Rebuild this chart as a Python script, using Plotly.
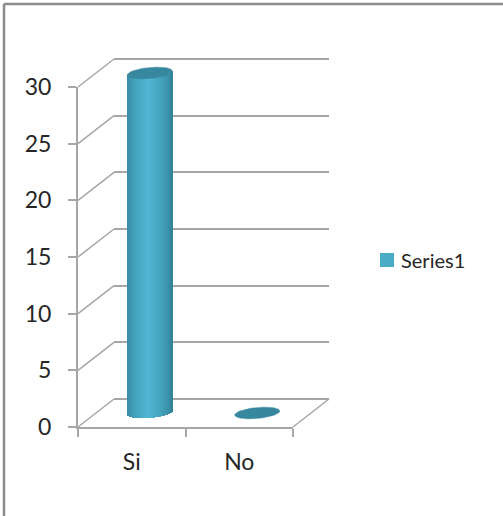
import numpy as np
import plotly.graph_objects as go

categories = ["Si", "No"]
series_name = "Series1"
values = [30, 0]
y_ticks = [0, 5, 10, 15, 20, 25, 30]

W, H = 503, 516
def xd(a, b): return [a / W, b / W]
def yd(top, bot): return [1 - bot / H, 1 - top / H]

GRID = "#a6a6a6"
TEXT = "#262626"
FONT = "Lato, Carlito, sans-serif"
DARK = np.array([0x2e, 0x7c, 0x93])
LIGHT = np.array([0x50, 0xb6, 0xd2])
TOP = "#37879f"

px_per_cat = 107.5
px_per_unit = 340 / 30
half_w = 22.5 / px_per_cat
half_h = 5.5 / px_per_unit
tilt = 2 / px_per_unit
N = 46
PAD = 1.2  # extra value units on the back wall and cylinder plane
pad_px = PAD * px_per_unit

def color(u):
    t = np.clip(1 - abs(u + 0.05) / 1.05, 0, 1) ** 0.55
    c = DARK + (LIGHT - DARK) * t
    return "rgb(%d,%d,%d)" % tuple(c)

fig = go.Figure()

fig.add_trace(go.Scatter(x=categories, y=[None, None], xaxis="x", yaxis="y", showlegend=False, hoverinfo="skip"))
fig.add_trace(go.Scatter(x=[0], y=[None], xaxis="x2", yaxis="y2", showlegend=False, hoverinfo="skip"))

for i, v in enumerate(values):
    if v <= 0:
        continue
    us = (np.arange(N) + 0.5) / N * 2 - 1
    xs = i + us * half_w
    bases = -half_h * np.sqrt(1 - us**2) + tilt * us
    tops = v + tilt * us
    fig.add_trace(go.Bar(
        x=xs, y=tops - bases, base=bases, width=2 * half_w / N * 1.25,
        marker=dict(color=[color(u) for u in us], line=dict(width=0)),
        xaxis="x3", yaxis="y3", showlegend=False, hoverinfo="skip"))

t = np.linspace(0, 2 * np.pi, 73)
for i, v in enumerate(values):
    fig.add_trace(go.Scatter(
        x=i + half_w * np.cos(t),
        y=v + half_h * np.sin(t) + tilt * np.cos(t),
        mode="lines", fill="toself", fillcolor=TOP, line=dict(color=TOP, width=0.5),
        xaxis="x3", yaxis="y3", showlegend=False, hoverinfo="skip"))

fig.add_trace(go.Scatter(
    x=[None], y=[None], mode="markers", name=series_name,
    marker=dict(symbol="square", size=14, color="#4bacc6"),
    xaxis="x3", yaxis="y3", showlegend=True))

shapes = []
for v in y_ticks:
    f = 427 - v * px_per_unit
    shapes.append(dict(type="line", xref="paper", yref="paper",
                       x0=78 / W, y0=1 - f / H, x1=114 / W, y1=1 - (f - 28) / H,
                       line=dict(color=GRID, width=1.5), layer="below"))
shapes.append(dict(type="line", xref="paper", yref="paper", x0=293 / W, y0=1 - 427 / H,
                   x1=329 / W, y1=1 - 399 / H, line=dict(color=GRID, width=1.5), layer="below"))
for x0, y0, x1, y1 in [(4, 516, 4, 4), (4, 4, 503, 4)]:
    shapes.append(dict(type="line", xref="paper", yref="paper",
                       x0=x0 / W, y0=1 - y0 / H, x1=x1 / W, y1=1 - y1 / H,
                       line=dict(color="#8c8c8c", width=2.5)))

fig.update_layout(
    width=W, height=H, autosize=False,
    margin=dict(l=0, r=0, t=0, b=0, autoexpand=False),
    paper_bgcolor="white", plot_bgcolor="rgba(0,0,0,0)",
    barmode="overlay", bargap=0, shapes=shapes,
    font=dict(family=FONT, color=TEXT),
    showlegend=True,
    legend=dict(x=361 / W, y=1 - 260 / H, xanchor="left", yanchor="middle",
                font=dict(size=20, family=FONT, color=TEXT),
                bgcolor="rgba(0,0,0,0)", itemwidth=30),
    xaxis=dict(domain=xd(78, 293), type="category", categoryorder="array", categoryarray=categories,
               range=[-0.5, 1.5], anchor="y", showgrid=False, zeroline=False,
               showline=True, linecolor=GRID, linewidth=2,
               ticks="outside", ticklen=8, tickcolor=GRID, tickwidth=2, tickson="boundaries",
               tickfont=dict(size=23), ticklabelstandoff=13),
    yaxis=dict(domain=yd(87, 427), range=[0, 30], tickvals=y_ticks, anchor="x", showgrid=False,
               zeroline=False, showline=True, linecolor=GRID, linewidth=2,
               ticks="outside", ticklen=8, tickcolor=GRID, tickwidth=2,
               tickfont=dict(size=23), ticklabelstandoff=12),
    xaxis2=dict(domain=xd(114, 329), range=[-0.5, 1.5], anchor="y2", visible=False),
    yaxis2=dict(domain=yd(59 - pad_px, 399 + pad_px), range=[-PAD, 30 + PAD], tickvals=y_ticks,
                anchor="x2", showgrid=True, gridcolor=GRID, gridwidth=1.5,
                zeroline=False, showticklabels=False, ticks="", showline=False),
    xaxis3=dict(domain=xd(96, 311), range=[-0.5, 1.5], anchor="y3", visible=False),
    yaxis3=dict(domain=yd(73 - pad_px, 413 + pad_px), range=[-PAD, 30 + PAD], anchor="x3", visible=False),
)
post = """
document.body.style.margin = '0';
document.documentElement.style.overflow = 'hidden';
var s = document.querySelector('.legendsymbols');
if (s) { s.setAttribute('transform', 'translate(6,0)'); }
"""
fig.write_html("out.html", config=dict(displayModeBar=False), post_script=post)
